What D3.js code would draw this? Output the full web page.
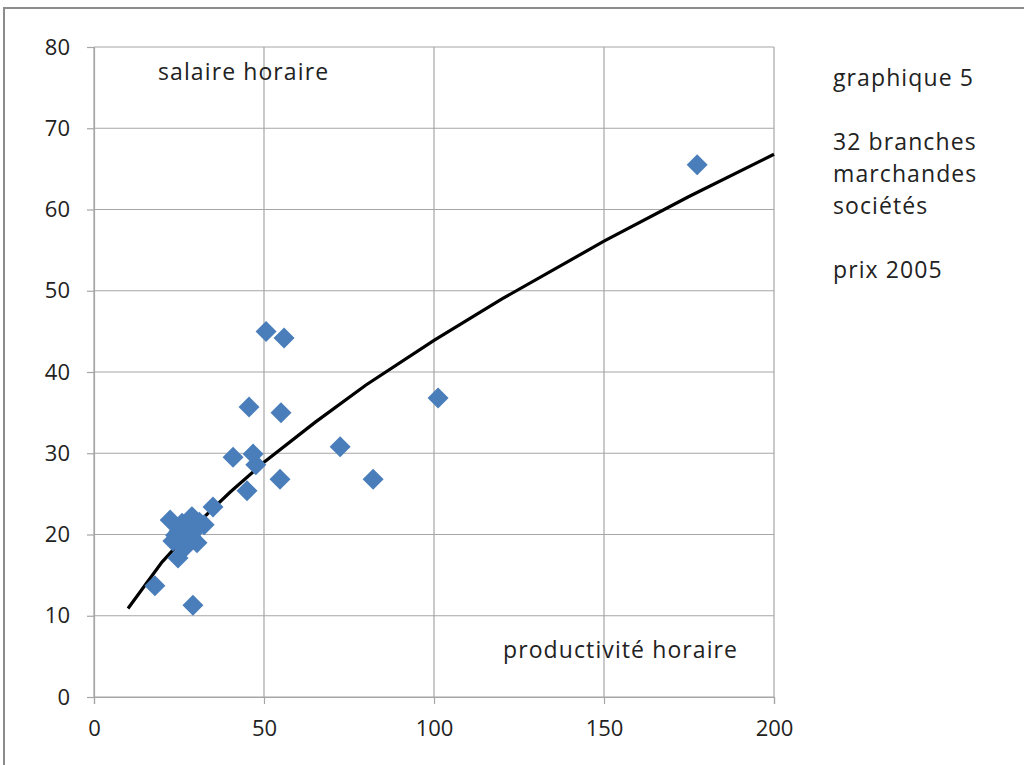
<!DOCTYPE html>
<html><head><meta charset="utf-8">
<script src="https://cdn.jsdelivr.net/npm/d3@7"></script>
<style>
html,body{margin:0;padding:0;background:#fff;}
text{font-family:"Open Sans","Noto Sans",sans-serif;fill:#222;}
</style></head>
<body>
<script>
// productivité horaire (x) / salaire horaire (y), 32 branches
const productivite = [177.4,101.2,82.1,72.4,50.6,55.9,45.6,55.0,40.9,46.8,47.6,45.0,54.7,35.0,32.4,28.8,25.9,22.4,23.2,27.4,30.3,24.7,26.5,17.9,29.1,25.0,27.2,29.8,24.0,26.2,28.5,31.0];
const salaire      = [65.5,36.8,26.8,30.8,45.0,44.2,35.7,35.0,29.5,29.9,28.6,25.4,26.8,23.4,21.2,22.2,21.4,21.8,19.2,19.0,19.0,17.1,18.3,13.7,11.3,20.4,20.8,20.6,19.9,19.6,19.8,21.5];
// tendance (courbe de puissance)
const trendX = [10,20,30,40,50,65,80,100,120,150,175,200];
const trendY = [10.9,16.6,21.2,25.2,28.9,33.8,38.4,43.9,49.0,56.1,61.6,66.8];
const xTicks = [0,50,100,150,200];
const yTicks = [0,10,20,30,40,50,60,70,80];
const noteLines = ["graphique 5","","32 branches","marchandes","sociétés","","prix 2005"];

const W=1024,H=765;
const svg=d3.select("body").append("svg").attr("width",W).attr("height",H);
svg.append("rect").attr("x",4).attr("y",8).attr("width",1040).attr("height",800)
  .attr("fill","none").attr("stroke","#8c8c8c").attr("stroke-width",2);

const x=d3.scaleLinear().domain([0,200]).range([94,774]);
const y=d3.scaleLinear().domain([0,80]).range([697,47]);
const grid="#a6a6a6";

// grid
svg.append("g").selectAll("line").data(yTicks).join("line")
  .attr("x1",x(0)).attr("x2",x(200)).attr("y1",d=>y(d)).attr("y2",d=>y(d))
  .attr("stroke",grid).attr("stroke-width",1.2);
svg.append("g").selectAll("line").data(xTicks).join("line")
  .attr("x1",d=>x(d)).attr("x2",d=>x(d)).attr("y1",y(0)).attr("y2",y(80))
  .attr("stroke",grid).attr("stroke-width",1.2);

// axes
const yAx=svg.append("g").attr("transform",`translate(${x(0)},0)`)
  .call(d3.axisLeft(y).tickValues(yTicks).tickSize(7).tickPadding(17));
const xAx=svg.append("g").attr("transform",`translate(0,${y(0)})`)
  .call(d3.axisBottom(x).tickValues(xTicks).tickSize(7).tickPadding(16));
[yAx,xAx].forEach(g=>{
  g.select(".domain").attr("stroke",grid).attr("stroke-width",1.2);
  g.selectAll(".tick line").attr("stroke",grid).attr("stroke-width",1.2);
  g.selectAll(".tick text").style("font-family","'Open Sans',sans-serif").style("font-size","22px").attr("fill","#222");
});

// trend line
svg.append("path").datum(trendX.map((d,i)=>[d,trendY[i]]))
  .attr("d",d3.line().x(d=>x(d[0])).y(d=>y(d[1])))
  .attr("fill","none").attr("stroke","#000").attr("stroke-width",3.2);

// diamonds
const r=10.5;
svg.append("g").selectAll("path").data(productivite.map((d,i)=>[d,salaire[i]])).join("path")
  .attr("transform",d=>`translate(${x(d[0])},${y(d[1])})`)
  .attr("d",`M0,${-r}L${r},0L0,${r}L${-r},0Z`)
  .attr("fill","#4a7ebb");

// labels
const lbl=(sel)=>sel.style("font-size","23px").style("letter-spacing","1.1px");
lbl(svg.append("text").attr("x",158).attr("y",80).text("salaire horaire"));
lbl(svg.append("text").attr("x",503).attr("y",658).text("productivité horaire"));
lbl(svg.append("g").selectAll("text").data(noteLines).join("text")
  .attr("x",833).attr("y",(d,i)=>86+i*32).text(d=>d));
</script>
</body></html>
